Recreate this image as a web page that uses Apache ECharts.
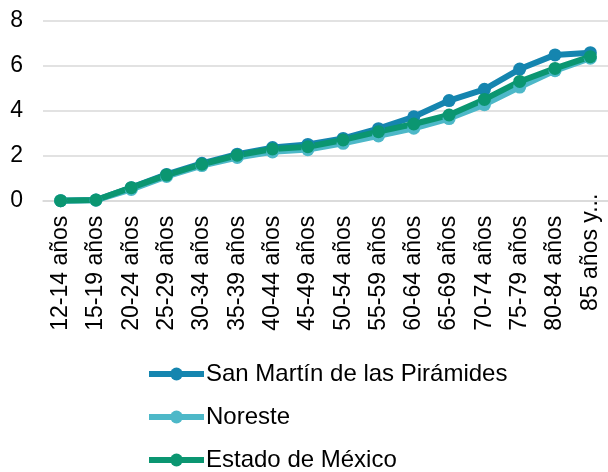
<!DOCTYPE html>
<html>
<head>
<meta charset="utf-8">
<script src="https://cdn.jsdelivr.net/npm/echarts@6/dist/echarts.min.js"></script>
<style>
html,body{margin:0;padding:0;background:#fff;}
#chart{width:608px;height:472px;}
</style>
</head>
<body>
<div id="chart"></div>
<script>
const categories = ['12-14 años','15-19 años','20-24 años','25-29 años','30-34 años','35-39 años','40-44 años','45-49 años','50-54 años','55-59 años','60-64 años','65-69 años','70-74 años','75-79 años','80-84 años','85 años y más'];
const seriesNames = ['San Martín de las Pirámides','Noreste','Estado de México'];
const sanMartin = [0, 0.03, 0.58, 1.17, 1.66, 2.07, 2.36, 2.5, 2.77, 3.2, 3.73, 4.45, 4.95, 5.85, 6.48, 6.58];
const noreste = [0, 0.02, 0.5, 1.08, 1.56, 1.92, 2.17, 2.27, 2.55, 2.88, 3.22, 3.65, 4.27, 5.05, 5.78, 6.33];
const estadoMexico = [0, 0.03, 0.58, 1.14, 1.62, 2.02, 2.3, 2.4, 2.7, 3.07, 3.41, 3.81, 4.5, 5.3, 5.88, 6.4];
const yTicks = [0, 2, 4, 6, 8];
const colors = ['#1585af', '#4db8c8', '#0b9671'];

const chart = echarts.init(document.getElementById('chart'), null, {renderer: 'canvas'});
const mk = (name, data, color) => ({
  name, type: 'line', data,
  symbol: 'circle', symbolSize: 13,
  lineStyle: {width: 6, color},
  itemStyle: {color},
  emphasis: {disabled: true},
  animation: false
});
const lastIdx = categories.length - 1;
chart.setOption({
  animation: false,
  textStyle: {fontFamily: 'Liberation Sans, Arial, sans-serif'},
  grid: {left: 43, width: 568, top: 20.7, bottom: 271.3, containLabel: false},
  xAxis: {
    type: 'category', boundaryGap: true,
    data: categories.map((c, i) => i === lastIdx ? {value: c, textStyle: {padding: [0, -22, 0, 0]}} : c),
    axisLine: {show: true, lineStyle: {color: '#d9d9d9', width: 1.5}},
    axisTick: {show: false},
    axisLabel: {rotate: 90, interval: 0, margin: 15, fontSize: 23, color: '#000',
      fontFamily: 'Liberation Sans, Arial, sans-serif',
      width: 122, overflow: 'truncate', ellipsis: '...'}
  },
  yAxis: {
    type: 'value', min: yTicks[0], max: yTicks[yTicks.length-1], interval: 2,
    axisLine: {show: false}, axisTick: {show: false},
    splitLine: {lineStyle: {color: '#d9d9d9', width: 1.5}},
    axisLabel: {fontSize: 23, color: '#000', margin: 20,
      fontFamily: 'Liberation Sans, Arial, sans-serif'}
  },
  legend: {
    orient: 'vertical', left: 141, top: 357, height: 140,
    itemWidth: 55, itemHeight: 16, itemGap: 19,
    lineStyle: {width: 6},
    textStyle: {fontSize: 24, color: '#000', padding: [0,0,0,-3]},
    data: seriesNames
  },
  series: [
    mk(seriesNames[0], sanMartin, colors[0]),
    mk(seriesNames[1], noreste, colors[1]),
    mk(seriesNames[2], estadoMexico, colors[2])
  ]
});
</script>
</body>
</html>
